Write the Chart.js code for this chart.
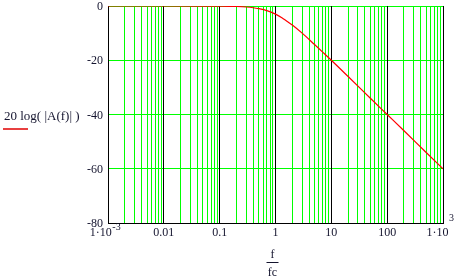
<!DOCTYPE html>
<html>
<head>
<meta charset="utf-8">
<script src="https://cdn.jsdelivr.net/npm/chart.js@4.4.1/dist/chart.umd.min.js"></script>
<style>
  html, body { margin: 0; padding: 0; background: #fff; }
  #wrap { width: 457px; height: 280px; }
</style>
</head>
<body>
<div id="wrap"><canvas id="bodeChart" width="457" height="280"></canvas></div>
<script>
// values (f/fc against 20 log|A(f)|)
const freq = [0.001, 0.01, 0.05, 0.1, 0.2, 0.3, 0.4, 0.5, 0.7, 1, 1.3, 1.6, 2, 3, 5, 7, 10, 20, 50, 100, 200, 500, 1000];
const gainDb = [0, 0, -0.01, -0.04, -0.17, -0.37, -0.64, -0.97, -1.7, -3.0, -4.3, -5.6, -7.0, -10.0, -14.2, -17.0, -20.0, -26.0, -34.0, -40.0, -46.0, -54.0, -60.0];

const decades = [0.001, 0.01, 0.1, 1, 10, 100, 1000];
const xTickLabels = [['1·10', '-3'], ['0.01'], ['0.1'], ['1'], ['10'], ['100'], ['1·10', '3']];
const supY = [227, 0, 0, 0, 0, 0, 218];
const yTicks = [0, -20, -40, -60, -80];
const yTickLabels = ['0', '-20', '-40', '-60', '-80'];

const textColor = '#14142e';
const font = '12px "Liberation Serif", "Times New Roman", serif';
const titleFont = '13px "Liberation Serif", "Times New Roman", serif';
const smallFont = '10px "Liberation Serif", "Times New Roman", serif';

function isDecade(v) {
  return decades.some(d => Math.abs(v / d - 1) < 1e-6);
}

// black decade lines, drawn crisp on top of the green grid
const decadeLines = {
  id: 'decadeLines',
  beforeDatasetsDraw(chart) {
    const ctx = chart.ctx;
    const xs = chart.scales.x;
    const area = chart.chartArea;
    ctx.save();
    ctx.strokeStyle = '#000000';
    ctx.lineWidth = 1;
    decades.forEach(d => {
      const px = Math.round(xs.getPixelForValue(d) - 0.5) + 0.5;
      ctx.beginPath();
      ctx.moveTo(px, area.top);
      ctx.lineTo(px, area.bottom);
      ctx.stroke();
    });
    ctx.restore();
  }
};

const labelsPlugin = {
  id: 'mathcadLabels',
  afterDraw(chart) {
    const ctx = chart.ctx;
    const xs = chart.scales.x;
    const ys = chart.scales.y;
    ctx.save();
    ctx.fillStyle = textColor;
    ctx.font = font;
    ctx.textBaseline = 'middle';

    // y tick labels
    ctx.textAlign = 'right';
    yTicks.forEach((v, i) => {
      ctx.fillText(yTickLabels[i], 103, ys.getPixelForValue(v) + 1);
    });

    // x tick labels
    decades.forEach((v, i) => {
      const px = xs.getPixelForValue(v);
      const parts = xTickLabels[i];
      ctx.font = font;
      const w1 = ctx.measureText(parts[0]).width;
      let w2 = 0;
      if (parts[1]) {
        ctx.font = smallFont;
        w2 = ctx.measureText(parts[1]).width;
      }
      const total = w1 + w2;
      const start = px - total / 2 - (parts[1] ? 3 : 0);
      ctx.textAlign = 'left';
      ctx.font = font;
      ctx.fillText(parts[0], start, 233);
      if (parts[1]) {
        ctx.font = smallFont;
        ctx.fillText(parts[1], start + w1 + 0.5, supY[i]);
      }
    });

    // y axis title
    ctx.font = titleFont;
    ctx.textAlign = 'left';
    ctx.fillText('20 log( |A(f)| )', 4, 117);
    ctx.strokeStyle = '#e00000';
    ctx.lineWidth = 1.5;
    ctx.beginPath();
    ctx.moveTo(3, 129);
    ctx.lineTo(28, 129);
    ctx.stroke();

    // x axis title as a fraction
    const cx = xs.getPixelForValue(1) - 3;
    ctx.font = font;
    ctx.textAlign = 'center';
    ctx.fillText('f', cx, 255);
    ctx.strokeStyle = textColor;
    ctx.lineWidth = 1;
    ctx.beginPath();
    ctx.moveTo(cx - 6, 262.5);
    ctx.lineTo(cx + 6, 262.5);
    ctx.stroke();
    ctx.fillText('fc', cx, 273);
    ctx.restore();
  }
};

const ctx = document.getElementById('bodeChart').getContext('2d');

const bodeChart = new Chart(ctx, {
  type: 'scatter',
  data: {
    datasets: [{
      data: freq.map((f, i) => ({ x: f, y: gainDb[i] })),
      showLine: true,
      borderColor: '#ff0000',
      borderWidth: 1.2,
      pointRadius: 0,
      cubicInterpolationMode: 'monotone'
    }]
  },
  options: {
    responsive: false,
    animation: false,
    layout: { padding: { left: 108, top: 6, right: 14, bottom: 57 } },
    plugins: {
      legend: { display: false },
      tooltip: { enabled: false }
    },
    scales: {
      x: {
        type: 'logarithmic',
        min: 0.001,
        max: 1000,
        afterBuildTicks(scale) {
          const ticks = [];
          decades.forEach(d => {
            if (d === 1000) { ticks.push({ value: d }); return; }
            for (let m = 1; m <= 9; m++) ticks.push({ value: m * d });
          });
          scale.ticks = ticks;
        },
        ticks: { display: false },
        grid: {
          drawTicks: false,
          lineWidth: 1,
          color: c => (c.tick && isDecade(c.tick.value)) ? '#000000' : '#00ff00'
        },
        border: { color: '#000000', width: 1 }
      },
      y: {
        min: -80,
        max: 0,
        afterBuildTicks(scale) {
          scale.ticks = yTicks.map(v => ({ value: v }));
        },
        ticks: { display: false },
        grid: {
          drawTicks: false,
          lineWidth: 1,
          color: '#00ff00'
        },
        border: { color: '#000000', width: 1 }
      }
    }
  },
  plugins: [decadeLines, labelsPlugin]
});
</script>
</body>
</html>
